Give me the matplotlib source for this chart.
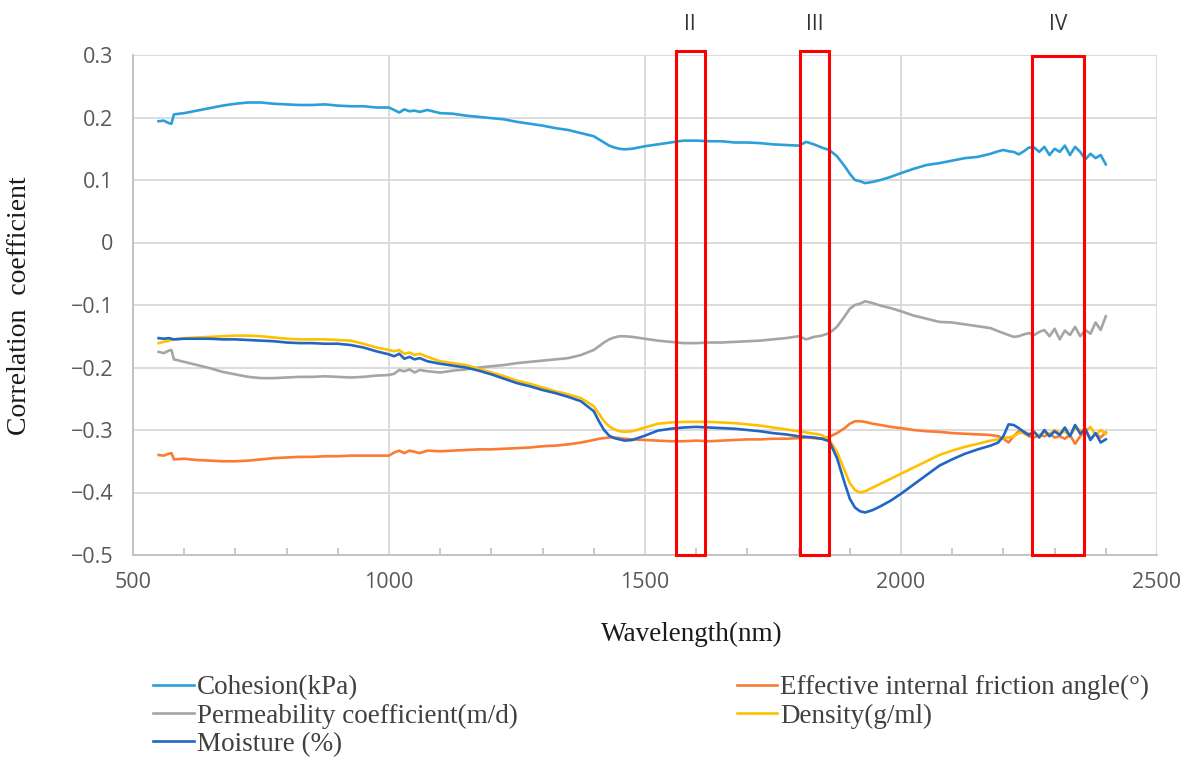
import matplotlib
matplotlib.use("Agg")
import matplotlib.pyplot as plt
from matplotlib.patches import Rectangle
from matplotlib.ticker import MultipleLocator
import matplotlib.transforms as mtransforms

wavelength = [
    550, 560, 570, 575, 580, 600, 625, 650, 675, 700,
    725, 750, 775, 800, 825, 850, 875, 900, 925, 950,
    975, 1000, 1010, 1020, 1030, 1040, 1050, 1060, 1075, 1100,
    1125, 1150, 1175, 1200, 1225, 1250, 1275, 1300, 1325, 1350,
    1375, 1400, 1410, 1420, 1430, 1440, 1450, 1460, 1475, 1500,
    1525, 1550, 1575, 1600, 1625, 1650, 1675, 1700, 1725, 1750,
    1775, 1800, 1815, 1830, 1845, 1860, 1875, 1890, 1900, 1910,
    1920, 1930, 1945, 1960, 1980, 2000, 2025, 2050, 2075, 2100,
    2125, 2150, 2175, 2190, 2200, 2210, 2220, 2230, 2240, 2250,
    2260, 2270, 2280, 2290, 2300, 2310, 2320, 2330, 2340, 2350,
    2360, 2370, 2380, 2390, 2400,
]

cohesion = [
    0.194, 0.195, 0.191, 0.190, 0.205, 0.207, 0.211, 0.215, 0.219, 0.222,
    0.224, 0.224, 0.222, 0.221, 0.220, 0.220, 0.221, 0.219, 0.218, 0.218,
    0.216, 0.216, 0.212, 0.208, 0.213, 0.210, 0.211, 0.209, 0.212, 0.207,
    0.206, 0.203, 0.201, 0.199, 0.197, 0.193, 0.190, 0.187, 0.183, 0.180,
    0.175, 0.170, 0.165, 0.160, 0.155, 0.152, 0.150, 0.149, 0.150, 0.154,
    0.157, 0.160, 0.163, 0.163, 0.162, 0.162, 0.160, 0.160, 0.159, 0.157,
    0.156, 0.155, 0.161, 0.157, 0.152, 0.148, 0.138, 0.122, 0.110, 0.100,
    0.098, 0.095, 0.097, 0.100, 0.105, 0.111, 0.118, 0.124, 0.127, 0.131,
    0.135, 0.137, 0.142, 0.146, 0.148, 0.146, 0.145, 0.141, 0.146, 0.152,
    0.152, 0.145, 0.153, 0.140, 0.150, 0.145, 0.155, 0.140, 0.153, 0.145,
    0.133, 0.142, 0.135, 0.140, 0.125,
]

friction = [
    -0.340, -0.341, -0.338, -0.337, -0.347, -0.346, -0.348, -0.349, -0.350, -0.350,
    -0.349, -0.347, -0.345, -0.344, -0.343, -0.343, -0.342, -0.342, -0.341, -0.341,
    -0.341, -0.341, -0.336, -0.333, -0.337, -0.333, -0.335, -0.337, -0.333, -0.334,
    -0.333, -0.332, -0.331, -0.331, -0.330, -0.329, -0.328, -0.326, -0.325, -0.323,
    -0.320, -0.316, -0.314, -0.313, -0.312, -0.312, -0.313, -0.314, -0.315, -0.316,
    -0.317, -0.318, -0.318, -0.317, -0.318, -0.317, -0.316, -0.315, -0.315, -0.314,
    -0.314, -0.313, -0.312, -0.313, -0.314, -0.311, -0.305, -0.297, -0.290, -0.286,
    -0.286, -0.287, -0.290, -0.292, -0.295, -0.297, -0.300, -0.302, -0.303, -0.305,
    -0.306, -0.307, -0.308, -0.310, -0.314, -0.320, -0.310, -0.302, -0.305, -0.310,
    -0.312, -0.308, -0.310, -0.306, -0.312, -0.310, -0.314, -0.308, -0.322, -0.310,
    -0.300, -0.314, -0.306, -0.312, -0.304,
]

permeability = [
    -0.175, -0.177, -0.173, -0.172, -0.187, -0.191, -0.196, -0.201, -0.207, -0.211,
    -0.215, -0.217, -0.217, -0.216, -0.215, -0.215, -0.214, -0.215, -0.216, -0.215,
    -0.213, -0.212, -0.210, -0.204, -0.206, -0.203, -0.208, -0.204, -0.206, -0.208,
    -0.205, -0.203, -0.200, -0.198, -0.196, -0.193, -0.191, -0.189, -0.187, -0.185,
    -0.180, -0.172, -0.166, -0.160, -0.155, -0.152, -0.150, -0.150, -0.151, -0.154,
    -0.157, -0.159, -0.161, -0.161, -0.160, -0.160, -0.159, -0.158, -0.157, -0.155,
    -0.153, -0.150, -0.155, -0.151, -0.149, -0.145, -0.135, -0.118, -0.106, -0.100,
    -0.098, -0.094, -0.097, -0.101, -0.105, -0.110, -0.117, -0.122, -0.127, -0.128,
    -0.131, -0.134, -0.137, -0.142, -0.145, -0.148, -0.151, -0.150, -0.147, -0.145,
    -0.148, -0.143, -0.140, -0.150, -0.138, -0.155, -0.141, -0.148, -0.135, -0.150,
    -0.140, -0.146, -0.128, -0.140, -0.118,
]

density = [
    -0.161, -0.159, -0.157, -0.156, -0.155, -0.153, -0.152, -0.151, -0.150, -0.149,
    -0.149, -0.150, -0.152, -0.154, -0.155, -0.155, -0.155, -0.156, -0.157, -0.162,
    -0.168, -0.172, -0.174, -0.172, -0.178, -0.176, -0.180, -0.178, -0.183, -0.190,
    -0.193, -0.196, -0.202, -0.208, -0.214, -0.221, -0.226, -0.232, -0.238, -0.243,
    -0.249, -0.262, -0.274, -0.286, -0.294, -0.299, -0.302, -0.303, -0.302, -0.296,
    -0.290, -0.288, -0.287, -0.287, -0.287, -0.288, -0.289, -0.291, -0.293, -0.296,
    -0.299, -0.302, -0.304, -0.306, -0.308, -0.316, -0.335, -0.365, -0.385, -0.396,
    -0.400, -0.398, -0.392, -0.386, -0.378, -0.370, -0.360, -0.350, -0.340, -0.333,
    -0.327, -0.322, -0.317, -0.315, -0.313, -0.312, -0.310, -0.305, -0.303, -0.306,
    -0.304, -0.309, -0.303, -0.307, -0.300, -0.305, -0.302, -0.310, -0.296, -0.300,
    -0.302, -0.295, -0.308, -0.300, -0.306,
]

moisture = [
    -0.153, -0.154, -0.153, -0.154, -0.155, -0.154, -0.154, -0.154, -0.155, -0.155,
    -0.156, -0.157, -0.158, -0.160, -0.161, -0.161, -0.162, -0.162, -0.164, -0.168,
    -0.174, -0.179, -0.182, -0.178, -0.186, -0.183, -0.187, -0.185, -0.190, -0.194,
    -0.197, -0.200, -0.205, -0.211, -0.218, -0.225, -0.230, -0.236, -0.241, -0.247,
    -0.254, -0.270, -0.286, -0.300, -0.309, -0.313, -0.315, -0.317, -0.316, -0.309,
    -0.301, -0.298, -0.296, -0.295, -0.296, -0.297, -0.298, -0.300, -0.302, -0.305,
    -0.307, -0.310, -0.311, -0.312, -0.314, -0.318, -0.345, -0.385, -0.410, -0.424,
    -0.430, -0.432, -0.428, -0.422, -0.413, -0.402, -0.387, -0.372, -0.357, -0.347,
    -0.338, -0.331, -0.325, -0.320, -0.310, -0.291, -0.292, -0.297, -0.303, -0.308,
    -0.303, -0.312, -0.300, -0.310, -0.302, -0.308, -0.296, -0.310, -0.292, -0.306,
    -0.298, -0.316, -0.305, -0.320, -0.315,
]

series_labels = ["Cohesion(kPa)", "Effective internal friction angle(°)",
                 "Permeability coefficient(m/d)", "Density(g/ml)", "Moisture (%)"]
series_colors = ["#2a9fd8", "#f97c32", "#a5a5a5", "#ffc000", "#2166c4"]

# highlighted bands (wavelength ranges) and their labels
band_labels = ["II", "III", "IV"]
band_starts = [1560, 1803, 2256]
band_ends = [1617, 1859, 2357]

y_ticks = [0.3, 0.2, 0.1, 0.0, -0.1, -0.2, -0.3, -0.4, -0.5]
y_ticklabels = ["0.3", "0.2", "0.1", "0", "\u22120.1", "\u22120.2", "\u22120.3", "\u22120.4", "\u22120.5"]
x_ticks = [500, 1000, 1500, 2000, 2500]

fig = plt.figure(figsize=(11.95, 7.76), dpi=100)
ax = fig.add_axes([133/1195, 1-555/776, (1157-133)/1195, (555-55)/776])

all_series = [cohesion, friction, permeability, density, moisture]
lines = []
for vals, lab, col in zip(all_series, series_labels, series_colors):
    ln, = ax.plot(wavelength, vals, color=col, lw=1.9, label=lab, solid_joinstyle="round")
    lines.append(ln)

ax.set_xlim(500, 2500)
ax.set_ylim(-0.5, 0.3)
ax.set_yticks(y_ticks)
ax.set_yticklabels(y_ticklabels)
ax.set_xticks(x_ticks)
ax.xaxis.set_minor_locator(MultipleLocator(100))
ax.grid(True, which="major", color="#d9d9d9", lw=1.3)
ax.set_axisbelow(True)
for s in ["top", "right"]:
    ax.spines[s].set_visible(False)
for s in ["left", "bottom"]:
    ax.spines[s].set_color("#bfbfbf")
    ax.spines[s].set_linewidth(1.3)
ax.tick_params(axis="both", which="major", length=0, labelsize=15.5,
               labelcolor="#595959", pad=14, labelfontfamily="Open Sans")
ax.tick_params(axis="x", which="minor", direction="in", length=5, color="#bfbfbf", width=1.2)
ax.tick_params(axis="x", which="major", pad=12)

# highlighted rectangles
trans = mtransforms.blended_transform_factory(ax.transData, fig.transFigure)
for lab, x0, x1 in zip(band_labels, band_starts, band_ends):
    top = 0.306 if lab != "IV" else 0.299
    r = Rectangle((x0, -0.5), x1 - x0, top + 0.5, fill=False, edgecolor="#ff0000",
                  lw=2.2, clip_on=False, zorder=5)
    ax.add_patch(r)
    ax.text((x0 + x1) / 2, 1 - 25/776, lab, transform=trans, ha="center", va="center",
            fontsize=15, color="#333333", family="Open Sans")

fig.text(20/1195, 1 - 306/776, "Correlation  coefficient", rotation=90, ha="center",
         va="center", fontsize=20, family="Liberation Serif", color="#1a1a1a")
fig.text(692/1195, 1 - 634/776, "Wavelength(nm)", ha="center", va="center",
         fontsize=19.5, family="Liberation Serif", color="#1a1a1a")

order = [0, 2, 4, 1, 3]
leg = fig.legend([lines[i] for i in order], [series_labels[i] for i in order],
                 loc="upper left", bbox_to_anchor=(153/1195, 1 - 675/776), ncol=2,
                 frameon=False, borderpad=0, borderaxespad=0, handlelength=1.5,
                 handletextpad=0.11, labelspacing=0.12, columnspacing=8.1,
                 prop={"family": "Liberation Serif", "size": 19.5})
for t in leg.get_texts():
    t.set_color("#404040")

fig.savefig("out.png", dpi=100)
